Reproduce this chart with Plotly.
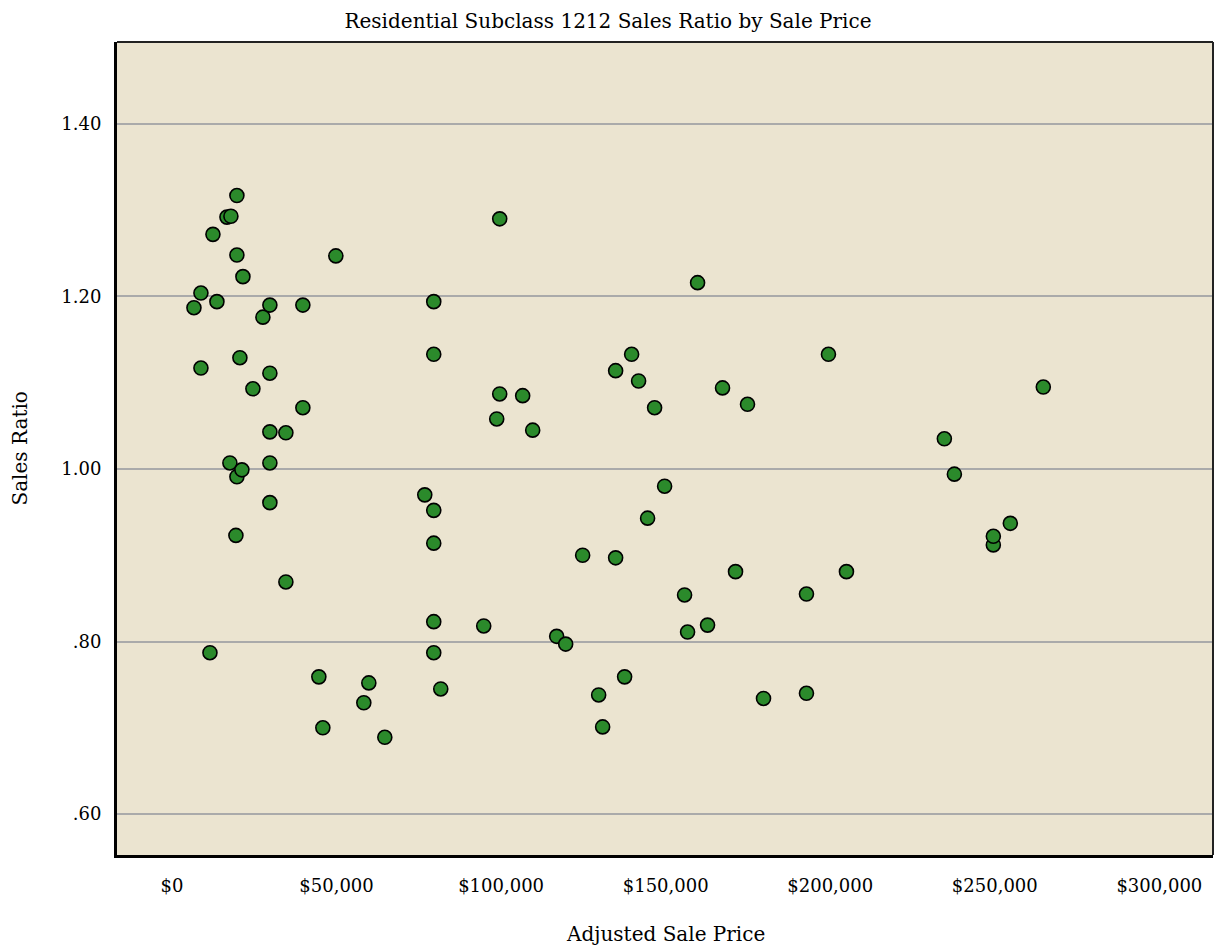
import plotly.graph_objects as go

sale_price = [6680, 8800, 8800, 12450, 13660, 11540, 16700, 17910, 19730, 19730,
              21560, 20640, 17600, 19730, 21250, 19430, 24590, 27630, 29750, 29750,
              29750, 29750, 29750, 34610, 34610, 39770, 39770, 49790, 44630, 45840,
              58290, 59810, 64670, 76810, 79540, 79540, 79540, 79540, 79540, 79540,
              81670, 94720, 99580, 99580, 98670, 106560, 109600, 116890, 119620, 124780,
              129640, 130850, 134800, 134800, 137530, 139660, 141780, 146640, 144510, 149680,
              155750, 156660, 159700, 162730, 167280, 171230, 174870, 179730, 192780, 192780,
              199460, 204930, 234680, 237720, 249560, 249560, 254720, 264740]
sales_ratio = [1.187, 1.204, 1.117, 1.272, 1.194, 0.787, 1.292, 1.293, 1.317, 1.248,
               1.223, 1.129, 1.007, 0.991, 0.999, 0.923, 1.093, 1.176, 1.190, 1.111,
               1.043, 1.007, 0.961, 1.042, 0.869, 1.190, 1.071, 1.247, 0.759, 0.700,
               0.729, 0.752, 0.689, 0.970, 1.194, 1.133, 0.952, 0.914, 0.823, 0.787,
               0.745, 0.818, 1.290, 1.087, 1.058, 1.085, 1.045, 0.806, 0.797, 0.900,
               0.738, 0.701, 1.114, 0.897, 0.759, 1.133, 1.102, 1.071, 0.943, 0.980,
               0.854, 0.811, 1.216, 0.819, 1.094, 0.881, 1.075, 0.734, 0.855, 0.740,
               1.133, 0.881, 1.035, 0.994, 0.912, 0.922, 0.937, 1.095]

x_tick_vals = [0, 50000, 100000, 150000, 200000, 250000, 300000]
x_tick_text = ["$0", "$50,000", "$100,000", "$150,000", "$200,000", "$250,000", "$300,000"]
y_tick_vals = [0.6, 0.8, 1.0, 1.2, 1.4]
y_tick_text = [".60", ".80", "1.00", "1.20", "1.40"]

FONT = "DejaVu Serif"

fig = go.Figure()
fig.add_trace(go.Scatter(
    x=sale_price, y=sales_ratio, mode="markers",
    marker=dict(size=14, color="#2b8a2b", line=dict(color="black", width=1.6)),
    hoverinfo="x+y", showlegend=False,
))

fig.update_layout(
    width=1216, height=952,
    margin=dict(l=117, r=3, t=42, b=97),
    paper_bgcolor="white",
    plot_bgcolor="#EBE4D0",
    font=dict(family=FONT, size=17, color="black"),
    title=dict(text="Residential Subclass 1212 Sales Ratio by Sale Price",
               x=0.5, xref="container", xanchor="center",
               y=1 - 21 / 952, yref="container", yanchor="middle",
               font=dict(family=FONT, size=20, color="black")),
    xaxis=dict(range=[-16700, 316300], tickvals=x_tick_vals, ticktext=x_tick_text,
               showgrid=False, zeroline=False, showline=True, linecolor="black",
               linewidth=3, mirror=False, ticks="outside", ticklen=12,
               tickcolor="rgba(0,0,0,0)", tickfont=dict(family=FONT, size=18),
               automargin=False),
    yaxis=dict(range=[0.5525, 1.495], tickvals=y_tick_vals, ticktext=y_tick_text,
               showgrid=True, gridcolor="#AAAAAA", gridwidth=1.5, zeroline=False,
               showline=True, linecolor="black", linewidth=3, mirror=False,
               ticks="outside", ticklen=9, tickcolor="rgba(0,0,0,0)",
               tickfont=dict(family=FONT, size=18), automargin=False),
)

# top/right frame
fig.add_shape(type="line", xref="paper", yref="paper", x0=0, x1=1, y0=1, y1=1,
              line=dict(color="#222222", width=2))
fig.add_shape(type="line", xref="paper", yref="paper", x0=1, x1=1, y0=0, y1=1,
              line=dict(color="#222222", width=2))

fig.add_annotation(text="Adjusted Sale Price", xref="paper", yref="paper",
                   x=0.5, y=-(934 - 855) / 813, xanchor="center", yanchor="middle",
                   showarrow=False, font=dict(family=FONT, size=20))
fig.add_annotation(text="Sales Ratio", xref="paper", yref="paper",
                   x=-(117 - 19) / 1096, y=0.5, xanchor="center", yanchor="middle",
                   textangle=-90, showarrow=False, font=dict(family=FONT, size=20))

fig.write_html("out.html", config={"displayModeBar": False},
               post_script="document.body.style.margin='0';document.body.style.overflow='hidden';")
